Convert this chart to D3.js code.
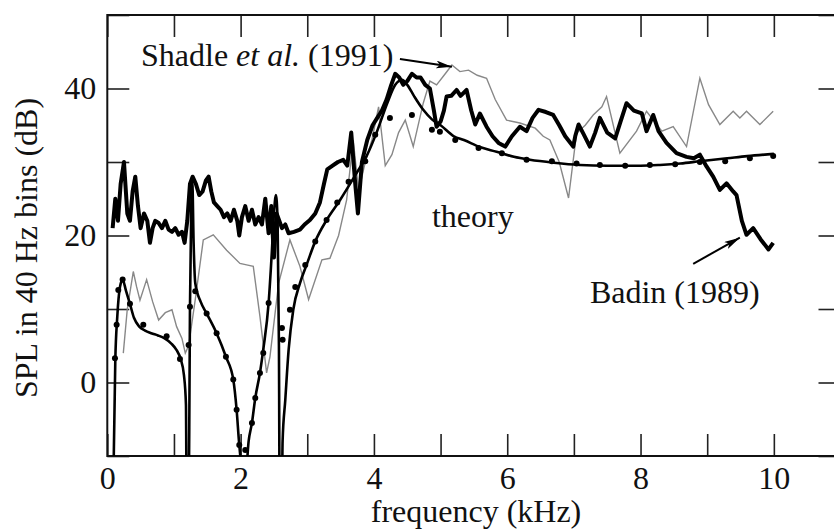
<!DOCTYPE html>
<html>
<head>
<meta charset="utf-8">
<script src="https://cdn.jsdelivr.net/npm/d3@7"></script>
<style>
body { margin: 0; background: #fff; }
text { font-family: "Liberation Serif", "Times New Roman", serif; }
</style>
</head>
<body>
<svg id="chart" width="834" height="532"></svg>
<script>
// Axis ticks (kHz, dB)
var x_ticks = [0, 1, 2, 3, 4, 5, 6, 7, 8, 9, 10, 11];
var x_labels = [0, 2, 4, 6, 8, 10];
var y_ticks = [-10, 0, 10, 20, 30, 40, 50];
var y_labels = [0, 20, 40];

// Badin (1989) measured spectrum [kHz, dB]
var badin = [[0.08,21],[0.12,25],[0.16,22],[0.2,27],[0.25,30],[0.3,23],[0.34,22],[0.38,26],[0.42,28],[0.46,24],
  [0.5,21],[0.55,23],[0.6,22],[0.64,19],[0.68,21],[0.72,22],[0.77,21.7],[0.82,21],[0.87,22],[0.92,20.8],
  [0.97,20.5],[1.02,21],[1.07,20.1],[1.12,20.5],[1.16,19],[1.2,22],[1.24,27],[1.28,28],[1.33,27],[1.38,25.5],
  [1.43,26],[1.48,27.5],[1.52,28],[1.56,26],[1.6,24.5],[1.65,24],[1.7,23.5],[1.75,22.5],[1.8,23],[1.85,22],
  [1.9,23.5],[1.95,22],[1.98,20],[2.02,22.5],[2.07,24],[2.12,22],[2.17,23.5],[2.22,21.5],[2.27,22.5],[2.32,21.5],
  [2.37,25],[2.42,20.3],[2.46,24],[2.5,17],[2.54,23],[2.58,22],[2.62,21],[2.67,21.5],[2.72,20.3],[2.8,20.5],
  [2.89,20.8],[2.96,21.5],[3.04,22.1],[3.12,23],[3.19,24.5],[3.25,27],[3.3,29],[3.38,29.5],[3.46,30],[3.54,30.3],
  [3.6,29.5],[3.66,34],[3.72,27],[3.76,23],[3.82,30],[3.9,33],[3.98,35],[4.05,36],[4.12,37],[4.19,38.5],
  [4.26,40.5],[4.32,42],[4.38,41.5],[4.44,40.5],[4.5,41],[4.57,42],[4.64,41.5],[4.7,41.5],[4.77,40.5],[4.84,40],
  [4.9,37],[4.94,34.8],[5.0,35.5],[5.05,37],[5.09,38.9],[5.16,39],[5.24,39.8],[5.3,39],[5.39,39.8],[5.46,37],
  [5.52,35.1],[5.59,36.6],[5.69,34.8],[5.78,33.5],[5.87,32.6],[5.97,32.1],[6.07,33.5],[6.19,34.8],[6.29,34.2],[6.38,36],
  [6.47,37.1],[6.58,36.8],[6.69,36.4],[6.78,35],[6.87,33.5],[6.99,32.1],[7.02,33.5],[7.07,35.1],[7.14,33.9],[7.24,32.1],
  [7.32,34],[7.39,36],[7.5,34],[7.62,33.2],[7.7,35.5],[7.79,38],[7.9,37],[8.02,36.6],[8.09,34.2],[8.19,36.4],
  [8.27,34.2],[8.39,32.6],[8.54,31.2],[8.69,30.7],[8.8,30.5],[8.89,31],[8.99,29.4],[9.09,28],[9.19,26.2],[9.29,27.1],
  [9.39,26],[9.44,25.5],[9.52,22],[9.59,20.1],[9.69,21],[9.8,19.5],[9.92,18.1],[9.99,19]];

// Shadle et al. (1991) measured spectrum [kHz, dB]
var shadle = [[0.24,4],[0.3,10],[0.39,15.1],[0.44,13],[0.49,11.2],[0.59,14],[0.68,11],[0.77,8.5],[0.87,9.5],[0.97,9.9],
  [1.04,7.6],[1.12,6],[1.17,4],[1.22,5],[1.32,11.3],[1.44,19.4],[1.59,20.1],[1.79,18],[1.99,16.2],[2.09,16],
  [2.19,15.8],[2.29,9],[2.39,1.3],[2.44,3.5],[2.57,13.5],[2.74,19.4],[2.89,15.8],[3.02,11.3],[3.22,16.7],[3.34,16.9],
  [3.47,20],[3.59,24.8],[3.69,33],[3.77,26],[3.87,30],[3.97,33],[4.07,37.5],[4.17,29.5],[4.27,31],[4.37,34],
  [4.47,35.7],[4.59,32.1],[4.74,38],[4.84,41],[4.94,40.5],[5.07,42],[5.17,43.2],[5.29,42.3],[5.42,42.5],[5.55,41.8],
  [5.69,41.4],[5.82,38.5],[5.99,35.7],[6.19,35.3],[6.42,34.6],[6.54,33.5],[6.64,33],[6.78,30],[6.92,25.1],[7.04,33.9],
  [7.17,35],[7.29,36.4],[7.42,37.5],[7.49,38.9],[7.69,31.2],[7.94,34.2],[8.09,36.9],[8.32,34.2],[8.49,34.8],[8.69,32.1],
  [8.89,41.4],[9.02,37.8],[9.19,35.1],[9.39,36.9],[9.49,36],[9.59,36.9],[9.79,35.1],[9.99,36.9]];

// Theory curve [kHz, dB] (values below -10 fall under the frame)
var theory = [[0.09,-14],[0.12,3],[0.15,9],[0.19,13],[0.23,14],[0.28,12.5],[0.34,10.7],[0.4,8.8],[0.48,7.6],[0.56,7.1],
  [0.66,6.7],[0.76,6.4],[0.86,6.0],[0.96,5.3],[1.04,4.4],[1.1,3.2],[1.15,1],[1.18,-3],[1.195,-25],[1.215,-25],
  [1.24,10],[1.26,24],[1.275,27.5],[1.295,19],[1.32,13.5],[1.4,11],[1.49,9.4],[1.64,6.7],[1.78,3.5],[1.89,0.4],
  [1.94,-3.7],[1.98,-8.5],[2.03,-12],[2.08,-12],[2.12,-8],[2.17,-5.5],[2.22,-2.1],[2.29,1.3],[2.34,4.5],[2.42,10.8],
  [2.47,18],[2.5,23],[2.53,25.5],[2.555,22],[2.575,5],[2.59,-25],[2.61,-25],[2.63,-8],[2.67,-2.4],[2.72,4.4],
  [2.79,9.9],[2.89,13.5],[2.99,16],[3.12,19.2],[3.29,22.1],[3.49,24.8],[3.74,28.5],[3.89,30.8],[4.04,34],[4.2,38],
  [4.32,40.5],[4.42,41.2],[4.5,40.5],[4.6,39],[4.74,37.1],[4.87,35.8],[5.0,35],[5.2,33.5],[5.35,33],[5.6,32],
  [5.84,31.4],[6.1,30.7],[6.34,30.3],[6.7,29.9],[7.09,29.6],[7.5,29.5],[8.0,29.5],[8.29,29.6],[8.6,29.8],[8.89,30.1],
  [9.3,30.5],[9.6,30.8],[10.0,31.1]];

// Theory points (dots) [kHz, dB]
var theory_pts = [[0.115,3.3],[0.14,7.85],[0.165,12.6],[0.23,14],[0.34,10.7],[0.54,7.85],[0.89,6.3],[1.09,3.2],[1.22,5.1],[1.24,10.3],
  [1.32,12.4],[1.49,9.4],[1.64,6.7],[1.78,3.5],[1.89,0.4],[1.94,-3.7],[1.98,-8.5],[2.07,-9.2],[2.17,-5.5],[2.22,-2.1],
  [2.29,1.3],[2.34,4],[2.42,10.8],[2.62,7.4],[2.63,5.8],[2.74,9.9],[2.82,13],[2.97,16],[3.12,19.2],[3.29,22.1],
  [3.45,24.5],[3.62,27.3],[3.87,30.1],[4.02,33.7],[4.24,36],[4.57,36.4],[4.87,34.4],[4.99,34.1],[5.22,33],[5.57,31.9],
  [5.92,31.2],[6.29,30.3],[6.67,30.1],[7.04,29.8],[7.39,29.6],[7.77,29.5],[8.14,29.6],[8.52,29.7],[8.89,30],[9.27,30.1],
  [9.64,30.5],[9.99,30.8]];

// Annotations: label position and arrow [from, to] in data units
var shadle_label = [0.506, 43.1];
var shadle_arrow = [[4.39, 44.0], [5.17, 42.95]];
var theory_label = [4.87, 21.2];
var badin_label = [7.24, 10.84];
var badin_arrow = [[8.79, 16.15], [9.49, 19.7]];

// SVG variables
var svg = d3.select('#chart');
var margin = {top: 15, left: 107.3};
var width = 733.2;
var height = 441;
var fontSize = 32;

var x = d3.scaleLinear().domain([0, 11]).range([0, width]);
var y = d3.scaleLinear().domain([-10, 50]).range([height, 0]);

var g = svg.append('g')
    .attr('transform', 'translate(' + margin.left + ',' + margin.top + ')');

svg.append('defs').append('clipPath')
    .attr('id', 'plotclip')
  .append('rect')
    .attr('width', width)
    .attr('height', height);

svg.select('defs').append('marker')
    .attr('id', 'arrowhead')
    .attr('markerUnits', 'userSpaceOnUse')
    .attr('viewBox', '0 0 16 8')
    .attr('refX', 16)
    .attr('refY', 4)
    .attr('markerWidth', 16)
    .attr('markerHeight', 8)
    .attr('orient', 'auto')
  .append('path')
    .attr('d', 'M0,0 L16,4 L0,8 L4,4 Z')
    .attr('fill', '#000');

function style_axis(sel){
    sel.attr('font-family', '"Liberation Serif", "Times New Roman", serif')
        .attr('font-size', fontSize);
    sel.select('.domain').remove();
    sel.selectAll('.tick line').attr('stroke', '#222').attr('stroke-width', 1.6);
    sel.selectAll('.tick text').attr('fill', '#111');
}

// bottom and top axes, ticks pointing inward
g.append('g')
    .attr('transform', 'translate(0,' + height + ')')
    .call(d3.axisBottom(x).tickValues(x_ticks).tickSizeInner(-22).tickSizeOuter(0).tickPadding(10)
        .tickFormat(function(d){ return x_labels.indexOf(d) >= 0 ? d : ''; }))
    .call(style_axis);

g.append('g')
    .call(d3.axisTop(x).tickValues(x_ticks).tickSizeInner(-22).tickSizeOuter(0).tickFormat(''))
    .call(style_axis);

// left and right axes
g.append('g')
    .call(d3.axisLeft(y).tickValues(y_ticks).tickSizeInner(-22).tickSizeOuter(0).tickPadding(11)
        .tickFormat(function(d){ return y_labels.indexOf(d) >= 0 ? d : ''; }))
    .call(style_axis);

g.append('g')
    .attr('transform', 'translate(' + width + ',0)')
    .call(d3.axisRight(y).tickValues(y_ticks).tickSizeInner(-22).tickSizeOuter(0).tickFormat(''))
    .call(style_axis);

// frame
g.append('rect')
    .attr('width', width)
    .attr('height', height)
    .attr('fill', 'none')
    .attr('stroke', '#111')
    .attr('stroke-width', 2);

var plot = g.append('g').attr('clip-path', 'url(#plotclip)');

var line = d3.line()
    .x(function(d){ return x(d[0]); })
    .y(function(d){ return y(d[1]); });

var smooth = d3.line()
    .x(function(d){ return x(d[0]); })
    .y(function(d){ return y(d[1]); })
    .curve(d3.curveMonotoneX);

// Shadle: thin grey
plot.append('path')
    .attr('d', line(shadle))
    .attr('fill', 'none')
    .attr('stroke', '#888')
    .attr('stroke-width', 1.4);

// theory curve
plot.append('path')
    .attr('d', smooth(theory))
    .attr('fill', 'none')
    .attr('stroke', '#000')
    .attr('stroke-width', 2.6);

// Badin: heavy line
plot.append('path')
    .attr('d', line(badin))
    .attr('fill', 'none')
    .attr('stroke', '#000')
    .attr('stroke-width', 4)
    .attr('stroke-linejoin', 'round');

plot.selectAll('.dot')
    .data(theory_pts)
    .enter().append('circle')
    .attr('class', 'dot')
    .attr('cx', function(d){ return x(d[0]); })
    .attr('cy', function(d){ return y(d[1]); })
    .attr('r', 3)
    .attr('fill', '#000');

// annotations
var shadle_text = g.append('text')
    .attr('x', x(shadle_label[0]))
    .attr('y', y(shadle_label[1]))
    .attr('font-size', fontSize)
    .attr('fill', '#111');
shadle_text.append('tspan').text('Shadle ');
shadle_text.append('tspan').attr('font-style', 'italic').text('et al.');
shadle_text.append('tspan').text(' (1991)');

g.append('text')
    .attr('x', x(theory_label[0]))
    .attr('y', y(theory_label[1]))
    .attr('font-size', fontSize)
    .attr('fill', '#111')
    .text('theory');

g.append('text')
    .attr('x', x(badin_label[0]))
    .attr('y', y(badin_label[1]))
    .attr('font-size', fontSize)
    .attr('fill', '#111')
    .text('Badin (1989)');

[shadle_arrow, badin_arrow].forEach(function(a){
    g.append('line')
        .attr('x1', x(a[0][0])).attr('y1', y(a[0][1]))
        .attr('x2', x(a[1][0])).attr('y2', y(a[1][1]))
        .attr('stroke', '#000')
        .attr('stroke-width', 2)
        .attr('marker-end', 'url(#arrowhead)');
});

// axis titles
svg.append('text')
    .attr('x', 476)
    .attr('y', 522)
    .attr('text-anchor', 'middle')
    .attr('font-size', fontSize)
    .attr('fill', '#111')
    .text('frequency (kHz)');

svg.append('text')
    .attr('transform', 'translate(37,248) rotate(-90)')
    .attr('text-anchor', 'middle')
    .attr('font-size', fontSize)
    .attr('fill', '#111')
    .text('SPL in 40 Hz bins (dB)');
</script>
</body>
</html>
